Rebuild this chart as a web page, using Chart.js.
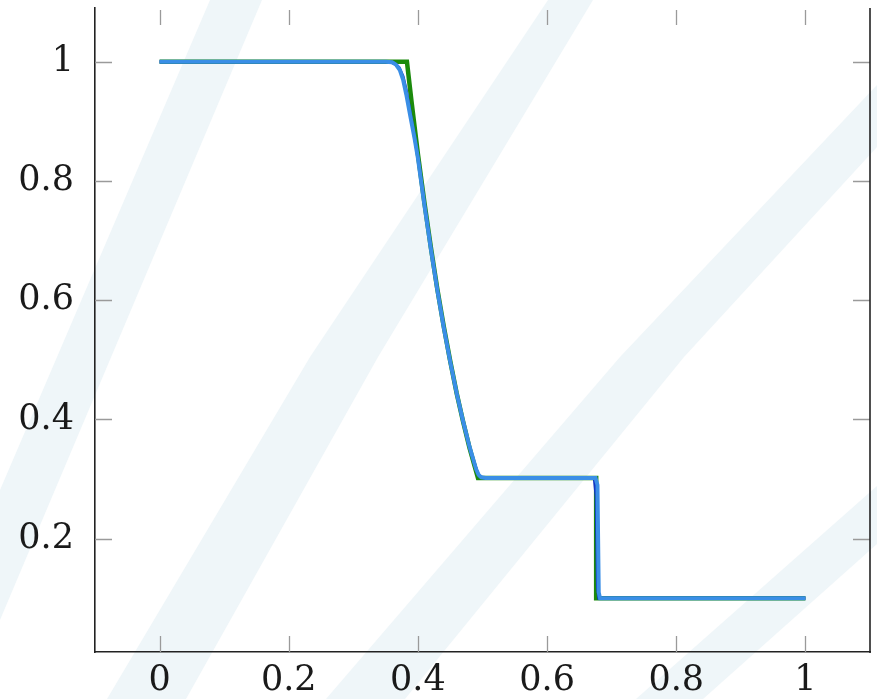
<!DOCTYPE html>
<html>
	<head>
		<title>Density</title>
		<meta charset="UTF-8">
		<script src="https://cdn.jsdelivr.net/npm/chart.js@4.4.1/dist/chart.umd.min.js"></script>
		<style>
			body { margin: 0; background: #fff; }
		</style>
	</head>
	<body>
		<canvas id="chart" width="877" height="699"></canvas>

		<script>
			// tick values
			var xTicks = [0, 0.2, 0.4, 0.6, 0.8, 1]
			var yTicks = [0.2, 0.4, 0.6, 0.8, 1]

			// exact solution (green)
			var xExact   = [0, 0.383, 0.39, 0.40, 0.41, 0.42, 0.43, 0.44, 0.45, 0.46, 0.47, 0.48, 0.493, 0.676, 0.676, 1]
			var rhoExact = [1, 1, 0.934, 0.845, 0.764, 0.689, 0.619, 0.556, 0.498, 0.444, 0.396, 0.352, 0.302, 0.302, 0.1, 0.1]

			// numerical solution, dark blue
			var xDark   = [0, 0.355, 0.364, 0.371, 0.377, 0.382, 0.388, 0.395, 0.40, 0.41, 0.42, 0.43, 0.44, 0.45, 0.46, 0.47, 0.48, 0.487, 0.492, 0.496, 0.503, 0.673, 0.676, 0.678, 0.680, 1]
			var rhoDark = [1, 1, 0.997, 0.99, 0.975, 0.952, 0.915, 0.872, 0.84, 0.762, 0.688, 0.618, 0.555, 0.497, 0.444, 0.396, 0.353, 0.328, 0.311, 0.304, 0.302, 0.302, 0.27, 0.12, 0.1, 0.1]

			// numerical solution, light blue
			var xLight   = [0, 0.35, 0.36, 0.366, 0.372, 0.377, 0.382, 0.388, 0.395, 0.40, 0.41, 0.42, 0.43, 0.44, 0.45, 0.46, 0.47, 0.48, 0.486, 0.49, 0.494, 0.498, 0.505, 0.675, 0.678, 0.680, 0.682, 1]
			var rhoLight = [1, 1, 0.999, 0.995, 0.986, 0.97, 0.945, 0.91, 0.87, 0.838, 0.76, 0.686, 0.617, 0.554, 0.497, 0.444, 0.397, 0.354, 0.332, 0.317, 0.307, 0.303, 0.302, 0.302, 0.29, 0.11, 0.1, 0.1]

			function pts(xs, ys){
				let out = []
				for(let i = 0; i < xs.length; i++){
					out.push({x: xs[i], y: ys[i]})
				}
				return out
			}

			// pale diagonal stripes behind everything
			var bands = [
				[[210,0],[262,0],[0,620],[0,490]],
				[[548,0],[593,0],[378,357],[186,699],[107,699],[310,357]],
				[[877,85],[877,147],[684,357],[405,699],[326,699],[620,357]],
				[[877,486],[877,544],[703,699],[636,699]]
			]

			let background = {
				id: 'background',
				beforeDraw(chart){
					let ctx = chart.ctx
					ctx.save()
					ctx.fillStyle = '#ffffff'
					ctx.fillRect(0, 0, chart.width, chart.height)
					ctx.fillStyle = '#eff6f9'
					bands.forEach(function(b){
						ctx.beginPath()
						ctx.moveTo(b[0][0], b[0][1])
						for(let i = 1; i < b.length; i++) ctx.lineTo(b[i][0], b[i][1])
						ctx.closePath()
						ctx.fill()
					})
					ctx.restore()
				}
			}

			// inward ticks on all four sides + right border
			let frame = {
				id: 'frame',
				afterDraw(chart){
					let ctx = chart.ctx
					let a = chart.chartArea
					let xs = chart.scales.x
					let ys = chart.scales.y
					ctx.save()
					ctx.strokeStyle = '#9a9a9a'
					ctx.lineWidth = 1.3
					ctx.beginPath()
					xTicks.forEach(function(v){
						let px = Math.round(xs.getPixelForValue(v)) + 0.5
						ctx.moveTo(px, a.bottom); ctx.lineTo(px, a.bottom - 16)
						ctx.moveTo(px, a.top + 2); ctx.lineTo(px, a.top + 17)
					})
					yTicks.forEach(function(v){
						let py = Math.round(ys.getPixelForValue(v)) + 0.5
						ctx.moveTo(a.left, py); ctx.lineTo(a.left + 17, py)
						ctx.moveTo(a.right, py); ctx.lineTo(a.right - 17, py)
					})
					ctx.stroke()
					ctx.strokeStyle = '#222'
					ctx.lineWidth = 1.6
					ctx.beginPath()
					ctx.moveTo(a.right, a.top); ctx.lineTo(a.right, a.bottom + 1)
					ctx.stroke()
					ctx.restore()
				}
			}

			let tickFont = {family: "'DejaVu Serif'", size: 35}

			function noPad(s){
				s.paddingTop = 0
				s.paddingBottom = 0
				s.paddingLeft = 0
				s.paddingRight = 0
			}

			new Chart(document.getElementById("chart").getContext("2d"), {
				type: "line",
				data: {
					datasets: [
						{
							data: pts(xLight, rhoLight),
							borderColor: '#3a8ee6',
							borderWidth: 4,
							pointRadius: 0,
							tension: 0,
							borderCapStyle: 'butt'
						},
						{
							data: pts(xDark, rhoDark),
							borderColor: '#1236c4',
							borderWidth: 3,
							pointRadius: 0,
							tension: 0,
							borderCapStyle: 'butt'
						},
						{
							data: pts(xExact, rhoExact),
							borderColor: '#1b8a0c',
							borderWidth: 4.5,
							pointRadius: 0,
							tension: 0,
							borderCapStyle: 'butt',
							borderJoinStyle: 'miter'
						}
					]
				},
				options: {
					responsive: false,
					animation: false,
					layout: {padding: {top: 8, right: 7, left: 0, bottom: 0}},
					plugins: {
						legend: {display: false},
						tooltip: {enabled: false}
					},
					scales: {
						x: {
							type: 'linear',
							min: -0.1,
							max: 1.1,
							afterBuildTicks: function(s){ s.ticks = xTicks.map(v => ({value: v})) },
							afterFit: function(s){ s.height = 47; noPad(s) },
							grid: {display: false},
							border: {display: true, color: '#222', width: 1.6},
							ticks: {font: tickFont, color: '#1a1a1a', padding: 0, maxRotation: 0, callback: v => String(v)}
						},
						y: {
							type: 'linear',
							min: 0.01,
							max: 1.09,
							afterBuildTicks: function(s){ s.ticks = yTicks.map(v => ({value: v})) },
							afterFit: function(s){ s.width = 95; noPad(s) },
							grid: {display: false},
							border: {display: true, color: '#222', width: 1.6},
							ticks: {font: tickFont, color: '#1a1a1a', padding: 13, callback: v => String(v)}
						}
					}
				},
				plugins: [background, frame]
			})
		</script>

	</body>
</html>
